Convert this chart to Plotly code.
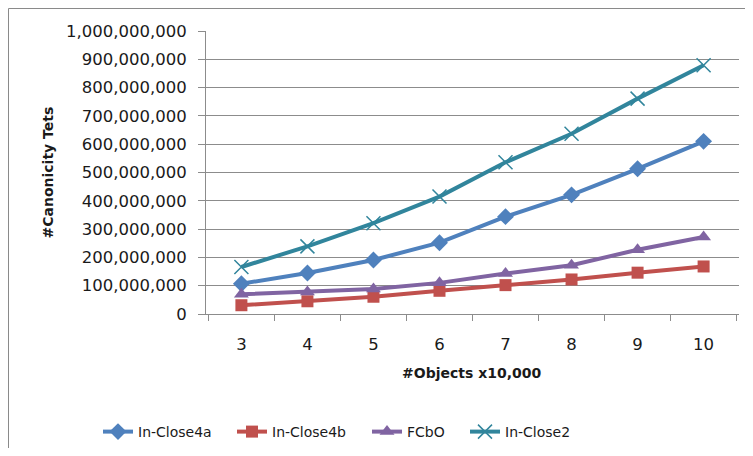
import plotly.graph_objects as go

# objects (x10,000)
objects = ["3", "4", "5", "6", "7", "8", "9", "10"]

# canonicity tests
in_close4a = [107e6, 145e6, 191e6, 252e6, 344e6, 421e6, 513e6, 610e6]
in_close4b = [31e6, 45e6, 61e6, 82e6, 102e6, 122e6, 146e6, 168e6]
fcbo = [70e6, 78e6, 88e6, 110e6, 143e6, 172e6, 227e6, 272e6]
in_close2 = [166e6, 239e6, 321e6, 415e6, 536e6, 637e6, 761e6, 879e6]

FONT = "DejaVu Sans"
GRID = "#8c8c8c"
TXT = "#1a1a1a"

# the page body adds 8px around the figure, keep the page at 753x456
W, H = 737, 440
L, R, T, B = 198, 731, 23, 306  # plot area in figure pixels


def px_x(x):
    return (x - L) / (R - L)


def px_y(y):
    return (B - y) / (B - T)


fig = go.Figure()
fig.add_trace(go.Scatter(x=objects, y=in_close4a, name="In-Close4a", mode="lines+markers",
                         line=dict(color="#4F81BD", width=4),
                         marker=dict(symbol="diamond", size=13, color="#4F81BD"),
                         legend="legend"))
fig.add_trace(go.Scatter(x=objects, y=in_close4b, name="In-Close4b", mode="lines+markers",
                         line=dict(color="#C0504D", width=4),
                         marker=dict(symbol="square", size=12, color="#C0504D"),
                         legend="legend2"))
fig.add_trace(go.Scatter(x=objects, y=fcbo, name="FCbO", mode="lines+markers",
                         line=dict(color="#8064A2", width=4),
                         marker=dict(symbol="triangle-up", size=13, color="#8064A2"),
                         legend="legend3"))
fig.add_trace(go.Scatter(x=objects, y=in_close2, name="In-Close2", mode="lines+markers",
                         line=dict(color="#31859C", width=4),
                         marker=dict(symbol="x-thin-open", size=14,
                                     line=dict(color="#4BACC6", width=1.5)),
                         legend="legend4"))

fig.update_xaxes(type="category", showgrid=False, showline=True, linecolor=GRID, linewidth=1,
                 ticks="outside", tickson="boundaries", ticklen=6, tickcolor=GRID,
                 ticklabelstandoff=15,
                 tickfont=dict(family=FONT, size=16.5, color=TXT))
fig.update_yaxes(range=[0, 1e9], dtick=1e8, tickformat=",d", showgrid=True, gridcolor=GRID,
                 gridwidth=1, showline=True, linecolor=GRID, linewidth=1, zeroline=False,
                 ticks="outside", ticklen=7, tickcolor=GRID, ticklabelstandoff=8,
                 tickfont=dict(family=FONT, size=16.5, color=TXT))

# outer chart border (cut off at right and bottom in the original)
fig.add_shape(type="rect", xref="paper", yref="paper",
              x0=px_x(0.5), x1=px_x(W + 20), y0=px_y(0.5), y1=px_y(H + 20),
              line=dict(color="#8a8a8a", width=1))

fig.add_annotation(text="<b>#Canonicity Tets</b>", xref="paper", yref="paper",
                   x=px_x(39), y=0.5, xanchor="center", yanchor="middle",
                   textangle=-90, showarrow=False,
                   font=dict(family=FONT, size=14, color=TXT))
fig.add_annotation(text="<b>#Objects x10,000</b>", xref="paper", yref="paper",
                   x=px_x(463), y=px_y(365), xanchor="center", yanchor="middle",
                   showarrow=False, font=dict(family=FONT, size=14, color=TXT))

leg = dict(orientation="h", xanchor="left", y=px_y(424), yanchor="middle",
           bgcolor="rgba(0,0,0,0)", font=dict(family=FONT, size=14, color=TXT))

fig.update_layout(
    width=W, height=H,
    margin=dict(l=L, r=W - R, t=T, b=H - B, autoexpand=False),
    plot_bgcolor="white", paper_bgcolor="white",
    showlegend=True,
    legend=dict(leg, x=px_x(90)),
    legend2=dict(leg, x=px_x(224)),
    legend3=dict(leg, x=px_x(359)),
    legend4=dict(leg, x=px_x(457)),
)

fig.write_html("out.html")
